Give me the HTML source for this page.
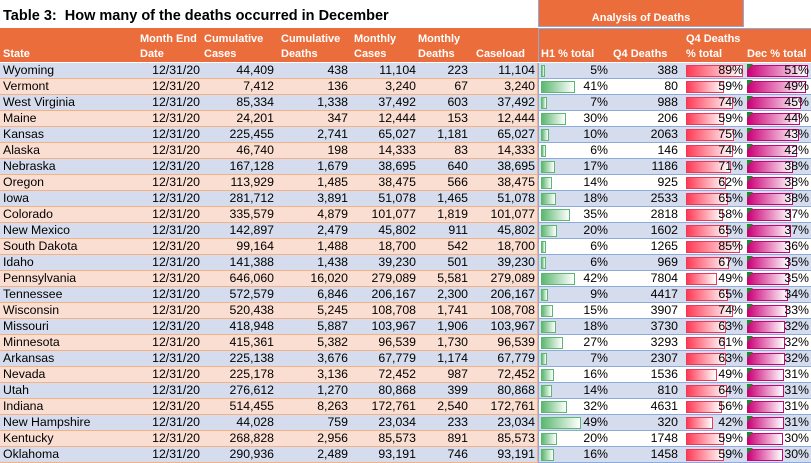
<!DOCTYPE html>
<html><head><meta charset="utf-8"><style>
body{margin:0;width:811px;height:463px;position:relative;overflow:hidden;background:#fff;font-family:"Liberation Sans",sans-serif;}
.title{position:absolute;left:3px;top:8px;font-weight:bold;font-size:14.5px;color:#000;}
.ana{position:absolute;left:538px;top:0;width:206px;height:27px;background:#ea6d3b;border:1px solid #8eaadb;border-top:none;color:#fff;font-weight:bold;font-size:11px;text-align:center;line-height:36px;box-sizing:border-box;}
.hl{position:absolute;left:0;top:28px;width:538px;height:34px;background:#ea6d3b;}
.hr{position:absolute;left:538px;top:28px;width:273px;height:34px;background:#ea6d3b;border-left:1px solid #8eaadb;border-top:1px solid #8eaadb;box-sizing:border-box;}
.h{position:absolute;color:#fff;font-weight:bold;font-size:11px;line-height:15px;}
.r{position:absolute;left:0;width:811px;height:16px;font-size:12.3px;line-height:15px;}
.c{position:absolute;top:0;height:16px;box-sizing:border-box;text-align:right;padding-right:2px;white-space:nowrap;}
.L{border-bottom:1px solid #f4b183;}
.R{border-bottom:1px solid #8eaadb;}
.b{background:#d5dced;}.p{background:#fbded2;}.w{background:#fff;}
.g{position:absolute;left:2px;top:2px;height:12px;box-sizing:border-box;border:1px solid #5cb870;background:linear-gradient(90deg,#5cb870,#fff);}
.q{position:absolute;left:6px;top:2px;height:12px;box-sizing:border-box;border:1px solid #f0365a;background:linear-gradient(90deg,#ff3b55,#fff);}
.d{position:absolute;left:2px;top:2px;height:12px;box-sizing:border-box;border:1px solid #cc0077;background:linear-gradient(90deg,#cc0077,#fff);}
.t{position:absolute;left:2px;top:1px;width:0;height:0;border-top:6px solid #1a8a2a;border-right:6px solid transparent;}
.s{position:relative;}
</style></head><body>
<div class="title">Table 3:&nbsp; How many of the deaths occurred in December</div>
<div class="ana">Analysis of Deaths</div>
<div class="hl"></div><div class="hr"></div>
<div class="h" style="left:3px;top:47px">State</div>
<div class="h" style="left:140px;top:32px">Month End<br>Date</div>
<div class="h" style="left:204px;top:32px">Cumulative<br>Cases</div>
<div class="h" style="left:281px;top:32px">Cumulative<br>Deaths</div>
<div class="h" style="left:354px;top:32px">Monthly<br>Cases</div>
<div class="h" style="left:418px;top:32px">Monthly<br>Deaths</div>
<div class="h" style="left:476px;top:47px">Caseload</div>
<div class="h" style="left:541px;top:47px">H1 % total</div>
<div class="h" style="left:613px;top:47px">Q4 Deaths</div>
<div class="h" style="left:686px;top:32px">Q4 Deaths<br>% total</div>
<div class="h" style="left:747px;top:47px">Dec % total</div>
<div id="rows"></div>
<script>
const D=[["Wyoming","44,409","438","11,104","223","11,104",5,388,89,51],
["Vermont","7,412","136","3,240","67","3,240",41,80,59,49],
["West Virginia","85,334","1,338","37,492","603","37,492",7,988,74,45],
["Maine","24,201","347","12,444","153","12,444",30,206,59,44],
["Kansas","225,455","2,741","65,027","1,181","65,027",10,2063,75,43],
["Alaska","46,740","198","14,333","83","14,333",6,146,74,42],
["Nebraska","167,128","1,679","38,695","640","38,695",17,1186,71,38],
["Oregon","113,929","1,485","38,475","566","38,475",14,925,62,38],
["Iowa","281,712","3,891","51,078","1,465","51,078",18,2533,65,38],
["Colorado","335,579","4,879","101,077","1,819","101,077",35,2818,58,37],
["New Mexico","142,897","2,479","45,802","911","45,802",20,1602,65,37],
["South Dakota","99,164","1,488","18,700","542","18,700",6,1265,85,36],
["Idaho","141,388","1,438","39,230","501","39,230",6,969,67,35],
["Pennsylvania","646,060","16,020","279,089","5,581","279,089",42,7804,49,35],
["Tennessee","572,579","6,846","206,167","2,300","206,167",9,4417,65,34],
["Wisconsin","520,438","5,245","108,708","1,741","108,708",15,3907,74,33],
["Missouri","418,948","5,887","103,967","1,906","103,967",18,3730,63,32],
["Minnesota","415,361","5,382","96,539","1,730","96,539",27,3293,61,32],
["Arkansas","225,138","3,676","67,779","1,174","67,779",7,2307,63,32],
["Nevada","225,178","3,136","72,452","987","72,452",16,1536,49,31],
["Utah","276,612","1,270","80,868","399","80,868",14,810,64,31],
["Indiana","514,455","8,263","172,761","2,540","172,761",32,4631,56,31],
["New Hampshire","44,028","759","23,034","233","23,034",49,320,42,31],
["Kentucky","268,828","2,956","85,573","891","85,573",20,1748,59,30],
["Oklahoma","290,936","2,489","93,191","746","93,191",16,1458,59,30]];
const X=[0,138,202,276,350,418,470,538,613,680,745,811];
let h="";
D.forEach((r,i)=>{
 const top=63+i*16, lc=i%2?"p":"b", rc=i%2?"w":"b";
 const cells=[r[0],"12/31/20",r[1],r[2],r[3],r[4],r[5]];
 h+=`<div class="r" style="top:${top}px">`;
 cells.forEach((v,j)=>{h+=`<div class="c L ${lc}" style="left:${X[j]}px;width:${X[j+1]-X[j]}px;${j==0?'text-align:left;padding-left:3px;':''}${j==6?'border-right:1px solid #f4b183;':''}">${v}</div>`;});
 h+=`<div class="c R ${rc}" style="left:538px;width:75px;padding-right:5px;border-left:1px solid #8eaadb"><div class="g" style="width:${r[6]*0.82}px"></div><span class="s">${r[6]}%</span></div>`;
 h+=`<div class="c R ${rc}" style="left:613px;width:67px">${r[7]}</div>`;
 h+=`<div class="c R ${rc}" style="left:680px;width:65px"><div class="q" style="width:${r[8]*0.64}px"></div><span class="s">${r[8]}%</span></div>`;
 h+=`<div class="c R ${rc}" style="left:745px;width:66px"><div class="d" style="width:${r[9]*1.2}px"></div><div class="t"></div><span class="s">${r[9]}%</span></div>`;
 h+=`</div>`;
});
document.getElementById("rows").innerHTML=h;
</script>
</body></html>
